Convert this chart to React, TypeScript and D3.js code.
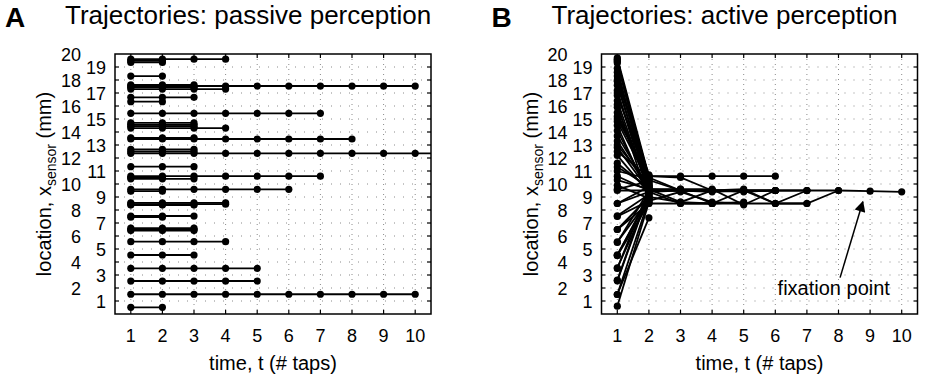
import React from 'react';
import * as d3 from 'd3';

const W = 926;
const H = 380;

// tick labels
const tapTicks = [1, 2, 3, 4, 5, 6, 7, 8, 9, 10];
const locationTicks = d3.range(1, 21);

// Passive perception: location stays constant, trajectory length in taps
const passiveLocation = [19.6, 19.47, 19.35, 18.3, 17.62, 17.54, 17.45, 17.3, 16.67, 16.33, 15.44, 14.7, 14.55, 14.45, 14.3, 13.55, 13.46, 12.67, 12.5, 12.36, 11.33, 10.6, 10.5, 10.4, 9.59, 9.45, 8.55, 8.45, 8.38, 7.54, 7.45, 6.6, 6.5, 6.42, 5.56, 4.54, 3.51, 2.54, 1.52, 0.51];
const passiveTaps = [4, 2, 2, 2, 3, 10, 3, 4, 3, 2, 7, 3, 3, 3, 4, 3, 8, 3, 3, 11, 3, 7, 2, 3, 6, 2, 4, 4, 3, 3, 2, 3, 3, 3, 4, 3, 5, 5, 10, 2];

// Active perception: location at each tap t = 1, 2, ...
const activeTrajectories: number[][] = [
  [18.3, 10.6, 10.6, 10.6, 10.6, 10.6],
  [17.9, 9.5, 9.5, 9.5, 9.5, 9.5, 9.5, 9.5, 9.45, 9.4],
  [16.4, 9.4, 8.5, 8.5, 8.5, 8.5, 8.5, 9.5],
  [15.2, 10.3, 9.5, 8.5, 9.5, 9.5],
  [14.5, 9.0, 8.6, 9.5, 9.6, 8.5, 9.5],
  [13.3, 9.6, 9.6, 9.6, 8.4, 9.5],
  [12.5, 10.5, 9.5, 9.5],
  [11.6, 9.6, 8.6, 8.5, 8.6],
  [10.6, 9.5, 9.5, 9.5, 9.5, 9.5, 9.5],
  [9.5, 9.5, 9.6],
  [8.5, 9.4, 9.5, 9.4, 9.5, 8.5, 8.5],
  [19.7, 10.6, 10.5, 9.5],
  [16.1, 8.7, 9.4, 8.6, 8.5],
  [6.5, 8.5, 8.5, 8.5],
  [3.5, 9.6, 9.5, 9.5, 9.4, 9.5],
  [19.6, 9.5], [19.5, 10.2], [19.4, 9.8], [19.3, 10.5], [18.9, 9.3],
  [18.6, 9.7], [17.6, 10.0], [17.2, 9.2], [16.8, 10.4], [15.9, 9.6],
  [15.5, 9.9], [14.8, 10.1], [14.1, 9.4], [13.7, 9.7], [12.8, 9.5],
  [11.3, 9.8], [10.3, 9.6], [9.6, 10.2], [7.55, 9.2], [6.5, 9.0],
  [5.55, 8.8], [4.5, 9.1], [3.55, 8.9], [2.55, 9.3], [1.5, 7.4],
  [0.6, 8.6], [1.5, 8.8], [2.6, 9.5], [5.5, 9.5], [4.5, 8.5],
  [18.0, 10.7], [17.0, 9.9], [15.0, 10.6], [13.0, 10.0], [12.2, 9.3],
  [11.0, 10.4], [7.5, 8.7], [4.55, 9.0], [8.5, 9.8], [9.9, 8.9],
];

// Annotation (data units): text anchor and arrow tail/tip
const fixationLabel = { t: 7.85, loc: 1.5, text: 'fixation point' };
const fixationArrow = { fromT: 8.05, fromLoc: 2.8, toT: 8.77, toLoc: 8.64 };

const FONT = "'Liberation Sans', Arial, Helvetica, sans-serif";

type PanelProps = {
  id: string;
  letter: string;
  title: string;
  left: number;
  trajectories: [number, number][][];
  annotate?: boolean;
};

function Panel({ id, letter, title, left, trajectories, annotate }: PanelProps) {
  const top = 54;
  const bottom = 314;
  const width = 316;
  const x = d3.scaleLinear().domain([0.5, 10.5]).range([left, left + width]);
  const y = d3.scaleLinear().domain([0, 20]).range([bottom, top]);
  const line = d3
    .line<[number, number]>()
    .x((d) => x(d[0]))
    .y((d) => y(d[1]));
  const tickLen = 4;

  return (
    <g>
      <defs>
        <clipPath id={`clip-${id}`}>
          <rect x={left} y={top} width={width} height={bottom - top} />
        </clipPath>
        <marker id={`arrow-${id}`} viewBox="0 0 10 10" refX="9" refY="5" markerWidth="13" markerHeight="11" markerUnits="userSpaceOnUse" orient="auto">
          <path d="M0,0 L10,5 L0,10 z" fill="#000" />
        </marker>
      </defs>
      {/* grid */}
      {tapTicks.map((t) => (
        <line key={`gx${t}`} x1={x(t)} x2={x(t)} y1={top} y2={bottom} stroke="#8a8a8a" strokeWidth={1} strokeDasharray="1 4" />
      ))}
      {d3.range(1, 20).map((v) => (
        <line key={`gy${v}`} x1={left} x2={left + width} y1={y(v)} y2={y(v)} stroke="#8a8a8a" strokeWidth={1} strokeDasharray="1 8" />
      ))}
      {/* data */}
      <g clipPath={`url(#clip-${id})`}>
        {trajectories.map((tr, i) => (
          <path key={`l${i}`} d={line(tr) || ''} fill="none" stroke="#000" strokeWidth={1.8} />
        ))}
        {trajectories.map((tr, i) =>
          tr.map((p, j) => <circle key={`c${i}-${j}`} cx={x(p[0])} cy={y(p[1])} r={3.6} fill="#000" />)
        )}
      </g>
      {/* box and ticks */}
      <rect x={left} y={top} width={width} height={bottom - top} fill="none" stroke="#000" strokeWidth={1.5} />
      {tapTicks.map((t) => (
        <g key={`tx${t}`}>
          <line x1={x(t)} x2={x(t)} y1={bottom} y2={bottom - tickLen} stroke="#000" strokeWidth={1.2} />
          <line x1={x(t)} x2={x(t)} y1={top} y2={top + tickLen} stroke="#000" strokeWidth={1.2} />
          <text x={x(t)} y={341.5} textAnchor="middle" fontSize={18} fontFamily={FONT}>{t}</text>
        </g>
      ))}
      {locationTicks.map((v) => (
        <g key={`ty${v}`}>
          {v < 20 && <line x1={left} x2={left + tickLen} y1={y(v)} y2={y(v)} stroke="#000" strokeWidth={1.2} />}
          {v < 20 && <line x1={left + width} x2={left + width - tickLen} y1={y(v)} y2={y(v)} stroke="#000" strokeWidth={1.2} />}
          <text x={v % 2 === 1 ? left - 9 : left - 34} y={y(v) + 7} textAnchor="end" fontSize={18} fontFamily={FONT}>{v}</text>
        </g>
      ))}
      {/* axis labels */}
      <text x={left + width / 2} y={370} textAnchor="middle" fontSize={20} fontFamily={FONT}>time, t (# taps)</text>
      <text transform={`translate(${left - 64},${(top + bottom) / 2}) rotate(-90)`} textAnchor="middle" fontSize={20} fontFamily={FONT}>
        location, x<tspan fontSize={14} dy={5}>sensor</tspan><tspan dy={-5}> (mm)</tspan>
      </text>
      {/* titles */}
      <text x={left - 110} y={27} fontSize={28} fontWeight="bold" fontFamily={FONT}>{letter}</text>
      <text x={left - 50} y={24} fontSize={26} fontFamily={FONT}>{title}</text>
      {annotate && (
        <g>
          <text x={x(fixationLabel.t)} y={y(fixationLabel.loc)} textAnchor="middle" fontSize={20} fontFamily={FONT}>{fixationLabel.text}</text>
          <line x1={x(fixationArrow.fromT)} y1={y(fixationArrow.fromLoc)} x2={x(fixationArrow.toT)} y2={y(fixationArrow.toLoc)} stroke="#000" strokeWidth={1.5} markerEnd={`url(#arrow-${id})`} />
        </g>
      )}
    </g>
  );
}

export default function App() {
  const passive: [number, number][][] = passiveLocation.map((loc, i) =>
    d3.range(1, passiveTaps[i] + 1).map((t) => [t, loc] as [number, number])
  );
  const active: [number, number][][] = activeTrajectories.map((tr) =>
    tr.map((loc, j) => [j + 1, loc] as [number, number])
  );
  return (
    <svg width={W} height={H} style={{ position: 'absolute', left: 0, top: 0, background: '#fff' }}>
      <rect width={W} height={H} fill="#fff" />
      <Panel id="a" letter="A" title="Trajectories: passive perception" left={115} trajectories={passive} />
      <Panel id="b" letter="B" title="Trajectories: active perception" left={601.5} trajectories={active} annotate />
    </svg>
  );
}
